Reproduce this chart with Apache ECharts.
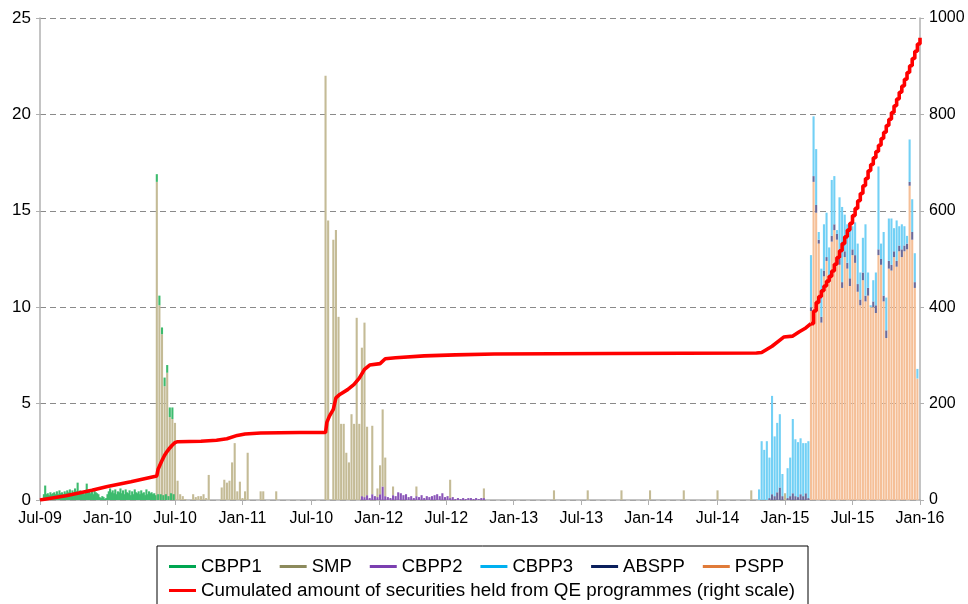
<!DOCTYPE html>
<html>
<head>
<meta charset="utf-8">
<title>QE programmes</title>
<script src="https://cdn.jsdelivr.net/npm/echarts@6/dist/echarts.min.js"></script>
<style>
  html, body { margin: 0; padding: 0; background: #fff; }
  #chart { width: 968px; height: 604px; }
</style>
</head>
<body>
<div id="chart"></div>
<script>
// x axis: half-year ticks, labels as printed on the original (incl. the second "Jul-10")
const tickLabels = ["Jul-09", "Jan-10", "Jul-10", "Jan-11", "Jul-10", "Jan-12", "Jul-12",
  "Jan-13", "Jul-13", "Jan-14", "Jul-14", "Jan-15", "Jul-15", "Jan-16"];

// weekly purchases, EUR bn (left scale); week 0 = start of Jul-09, last week = 339
const cbpp1Start = 1.5, cbpp1Step = 0.5;
const cbpp1 = [0.3, 0.75, 0.3, 0.35, 0.25, 0.4, 0.3, 0.35,
  0.4, 0.3, 0.45, 0.3, 0.5, 0.35, 0.4, 0.3, 0.45, 0.35, 0.5,
  0.4, 0.55, 0.35, 0.5, 0.4, 0.6, 0.45, 0.9, 0.4, 0.5, 0.35, 0.45,
  0.3, 0.5, 0.85, 0.4, 0.55, 0.35, 0.45, 0.3, 0.5, 0.4, 0.35,
  0.3, 0.15, 0.1, 0.2, 0.15, 0.05, 0.1, 0.3,
  0.45, 0.6, 0.4, 0.5, 0.35, 0.55, 0.3, 0.45, 0.4, 0.6, 0.35,
  0.5, 0.3, 0.55, 0.4, 0.35, 0.5, 0.25, 0.45, 0.3, 0.55, 0.4, 0.35,
  0.45, 0.3, 0.5, 0.35, 0.4, 0.25, 0.55, 0.3, 0.45, 0.35, 0.4, 0.3,
  0.35, 0.25, 0.4, 0.3, 0.5, 0.3, 0.35, 0.25, 0.45, 0.3, 0.4, 0.2, 0.5, 0.35, 0.6, 0.3];

const smp = [[45, 16.5], [46, 10.1], [47, 8.6], [48, 5.9], [49, 6.6], [50, 4.3], [51, 4.2], [52, 4.0],
  [53, 1.0], [54, 0.3], [55, 0.2], [56, 0.05], [59, 0.3], [60, 0.15], [61, 0.2], [62, 0.2], [63, 0.3],
  [64, 0.1], [65, 1.3], [70, 0.65], [71, 1.05], [72, 0.9], [73, 1.0], [74, 1.95], [75, 2.95], [76, 0.45],
  [77, 0.95], [78, 0.1], [79, 0.45], [80, 2.45], [85, 0.45], [86, 0.45], [91, 0.45],
  [110, 22.0], [111, 14.5], [113, 13.5], [114, 14.0], [115, 9.5], [116, 3.95], [117, 3.95], [118, 2.45],
  [119, 1.95], [120, 4.45], [121, 3.95], [122, 9.45], [123, 3.95], [124, 7.7], [125, 9.05], [126, 3.55],
  [128, 3.55], [130, 0.45], [131, 1.5], [132, 4.0], [133, 2.0], [136, 0.45], [145, 0.5], [158, 0.95],
  [171, 0.5], [198, 0.5], [211, 0.5], [224, 0.5], [235, 0.5], [248, 0.5], [261, 0.5], [274, 0.5], [287, 0.35]];

const cbpp2Start = 124;
const cbpp2 = [0.2, 0.15, 0.25, 0.1, 0.3, 0.2, 0.15, 0.3, 0.7, 0.2, 0.15, 0.1, 0.25, 0.2, 0.4, 0.35,
  0.25, 0.3, 0.15, 0.2, 0.1, 0.2, 0.15, 0.25, 0.1, 0.2, 0.15, 0.2, 0.25, 0.3, 0.2, 0.35,
  0.15, 0.2, 0.1, 0.15, 0.05, 0.1, 0.05, 0.1, 0.05, 0.1, 0.1, 0.05, 0.1, 0.05, 0.1, 0.1];

const cbpp3Start = 277;
const cbpp3 = [0.55, 3.05, 2.6, 3.05, 2.1, 5.1, 3.1, 3.6, 3.8, 1.15, 0, 1.55, 2.0, 3.85, 2.95, 2.85, 2.9, 2.75, 2.6, 2.95,
  2.7, 3.1, 2.9, 0.4, 2.5, 2.4, 2.3, 1.5, 2.9, 2.5, 0.2, 3.2, 3.9, 1.9, 2.0, 2.8, 1.2, 1.7, 2.1, 1.4, 1.8,
  3.7, 0.8, 0.1, 1.1, 1.7, 4.3, 0.8, 3.3, 1.7, 2.2, 2.4, 1.2, 2.1, 1.0, 1.3, 1.0, 0.4, 2.2, 1.7, 1.5, 0.5];

const absppStart = 277;
const abspp = [0, 0, 0, 0, 0.1, 0.3, 0.2, 0.4, 0.65, 0.2, 0, 0.1, 0.2, 0.35, 0.2, 0.15, 0.3, 0.2, 0.35, 0.1,
  0.2, 0.3, 0.4, 0.2, 0.3, 0.3, 0.2, 0.3, 0.3, 0.3, 0.3, 0.3, 0.3, 0.3, 0.3, 0.4, 0.3, 0.4, 0.4, 0.3, 0.4,
  0.3, 0.4, 0, 0.3, 0.4, 0.3, 0.3, 0.3, 0.4, 0.4, 0.3, 0.3, 0.3, 0.3, 0.4, 0.3, 0.3, 0.2, 0.4, 0.3, 0];

const psppStart = 297;
const pspp = [9.8, 16.5, 14.9, 13.3, 9.2, 11.6, 12.4, 11.3, 13.4, 14.0, 13.5, 12.2, 11.0, 12.6, 12.0, 11.1,
  12.7, 12.3, 10.8, 10.1, 11.4, 10.3, 10.6, 10.0, 10.0, 9.7, 12.7, 12.2, 10.3, 8.4, 12.0, 11.9, 12.6,
  12.1, 12.9, 12.6, 12.9, 13.0, 16.3, 13.5, 11.0, 6.3];

// cumulated holdings, EUR bn (right scale): [week, value] up to PSPP start, then weekly steps
const cumulated = [[0, 0], [10, 9], [20, 20], [26, 28], [35, 38], [45, 50], [45.5, 64], [46, 70], [47, 82],
  [48, 93], [49, 101], [50, 108], [51, 114], [52, 119], [53, 121], [62, 122], [68, 124], [72, 127], [76, 134],
  [79, 137], [85, 139], [100, 140], [110, 140], [110.5, 161], [111.5, 174], [113, 188], [114, 212],
  [115.5, 219], [118.5, 229], [121, 240], [123, 253], [125, 271], [127, 280], [131, 283], [133, 293],
  [137, 295], [148, 299], [160, 301], [175, 303], [220, 304], [276, 305], [278, 306], [282, 319],
  [286.5, 338], [290, 340], [292.5, 349], [295, 357], [297, 366]];
const cumulatedQeStart = 297;
const cumulatedQe = [366, 392, 410, 422, 434, 444, 454, 464, 475, 489, 503, 517, 532, 546, 560, 574,
  590, 605, 621, 636, 652, 667, 683, 696, 710, 723, 736, 750, 763, 777, 790, 804, 818, 832, 846,
  859, 873, 887, 901, 916, 931, 946, 959];

const lineName = "Cumulated amount of securities held from QE programmes (right scale)";
const FONT = "'Liberation Sans', Arial, Helvetica, sans-serif";

// category axis on a half-week grid: index = 2 * week
const lastWeek = 339;
const slots = Array.from({ length: lastWeek * 2 + 1 }, (_, i) => String(i / 2));
const tickSlots = tickLabels.map((_, k) => Math.round(k * (slots.length - 1) / (tickLabels.length - 1)));

const toGrid = pairs => {
  const vals = new Array(slots.length).fill(null);
  pairs.forEach(([w, v]) => { if (v > 0) vals[Math.round(w * 2)] = v; });
  return vals;
};
const withWeeks = (start, step, values) => values.map((v, i) => [start + i * step, v]);

const barSeries = (name, color, pairs) => ({
  name: name,
  type: 'bar',
  stack: 'qe',
  barWidth: 2.1,
  itemStyle: { color: color },
  emphasis: { disabled: true },
  data: toGrid(pairs)
});

const lineSeries = (data, step) => ({
  name: lineName, type: 'line', yAxisIndex: 1, showSymbol: false, z: 5, step: step,
  lineStyle: { color: '#ff0000', width: 3.6 }, itemStyle: { color: '#ff0000' },
  emphasis: { disabled: true },
  data: data.map(d => [Math.round(d[0] * 2), d[1]])
});

const isTick = i => tickSlots.indexOf(i) >= 0;

const chart = echarts.init(document.getElementById('chart'), null, { renderer: 'canvas' });

chart.setOption({
  animation: false,
  backgroundColor: '#fff',
  textStyle: { fontFamily: FONT },
  grid: { left: 40, right: 48, top: 18, bottom: 104, outerBoundsMode: 'none' },
  xAxis: {
    type: 'category',
    data: slots,
    boundaryGap: false,
    axisLine: { lineStyle: { color: '#b0b0b0', width: 1.5 } },
    axisTick: { show: true, length: 5, interval: i => isTick(i), lineStyle: { color: '#b0b0b0' } },
    splitLine: { show: false },
    axisLabel: {
      color: '#000', fontSize: 16, fontFamily: FONT, margin: 11,
      interval: i => isTick(i),
      formatter: (v, i) => tickLabels[tickSlots.indexOf(i)] || ''
    }
  },
  yAxis: [
    {
      type: 'value', min: 0, max: 25, interval: 5, position: 'left',
      axisLine: { show: true, lineStyle: { color: '#b0b0b0', width: 1.5 } },
      axisTick: { show: true, length: 4, lineStyle: { color: '#b0b0b0' } },
      splitLine: { show: true, lineStyle: { color: '#8a8a8a', type: [6, 4], width: 1.2 } },
      axisLabel: { color: '#000', fontSize: 17, fontFamily: FONT, margin: 9 }
    },
    {
      type: 'value', min: 0, max: 1000, interval: 200, position: 'right',
      axisLine: { show: true, lineStyle: { color: '#b0b0b0', width: 1.5 } },
      axisTick: { show: true, length: 4, lineStyle: { color: '#b0b0b0' } },
      splitLine: { show: false },
      axisLabel: { color: '#000', fontSize: 16, fontFamily: FONT, margin: 9, formatter: v => String(v) }
    }
  ],
  graphic: [{
    type: 'rect', z: 0,
    shape: { x: 157, y: 546, width: 651, height: 80 },
    style: { fill: '#fff', stroke: '#000', lineWidth: 1 }
  }],
  legend: [
    {
      left: 169, top: 557, padding: 0, itemGap: 18, itemWidth: 27, itemHeight: 3, icon: 'rect',
      selectedMode: false,
      textStyle: { color: '#000', fontSize: 18.5, fontFamily: FONT },
      data: [
        { name: 'CBPP1', itemStyle: { color: '#00a651' } },
        { name: 'SMP', itemStyle: { color: '#8c8a5c' } },
        { name: 'CBPP2', itemStyle: { color: '#7b3fb0' } },
        { name: 'CBPP3', itemStyle: { color: '#00b0f0' } },
        { name: 'ABSPP', itemStyle: { color: '#0a1f5c' } },
        { name: 'PSPP', itemStyle: { color: '#e07b39' } }
      ]
    },
    {
      left: 169, top: 581, padding: 0, itemWidth: 27, itemHeight: 3, icon: 'rect',
      selectedMode: false,
      textStyle: { color: '#000', fontSize: 18.8, fontFamily: FONT },
      data: [{ name: lineName, itemStyle: { color: '#ff0000' } }]
    }
  ],
  // stacking order bottom to top: CBPP2, SMP, CBPP1, PSPP, ABSPP, CBPP3
  series: [
    barSeries('CBPP2', '#8a55b8', withWeeks(cbpp2Start, 1, cbpp2)),
    barSeries('SMP', '#c4bb96', smp),
    barSeries('CBPP1', '#3dbb6e', withWeeks(cbpp1Start, cbpp1Step, cbpp1)),
    barSeries('PSPP', '#f5bf97', withWeeks(psppStart, 1, pspp)),
    barSeries('ABSPP', '#6a6a9a', withWeeks(absppStart, 1, abspp)),
    barSeries('CBPP3', '#72d0f5', withWeeks(cbpp3Start, 1, cbpp3)),
    lineSeries(cumulated, false),
    lineSeries(withWeeks(cumulatedQeStart, 1, cumulatedQe), 'end')
  ]
});
</script>
</body>
</html>
